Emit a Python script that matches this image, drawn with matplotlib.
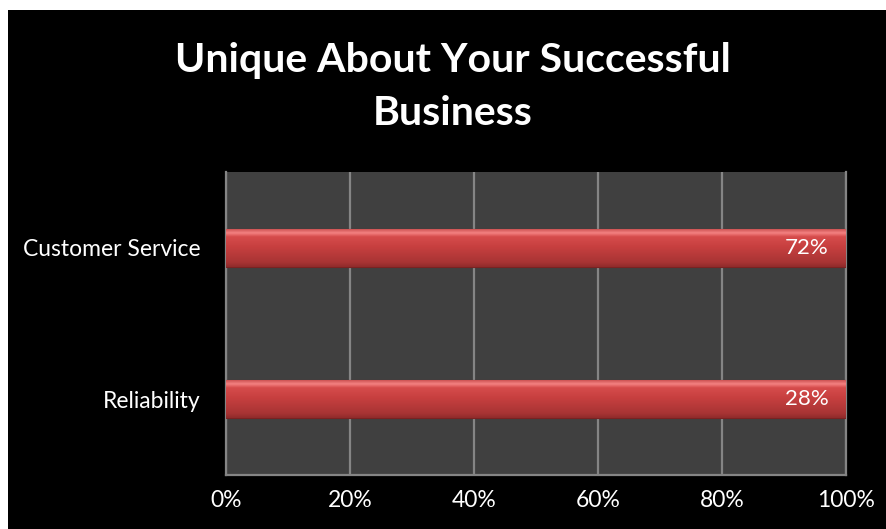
"""Horizontal 100% bar chart: what is unique about a successful business."""

import matplotlib
matplotlib.use('Agg')
import matplotlib.pyplot as plt
import numpy as np
from matplotlib.colors import LinearSegmentedColormap
from matplotlib.patches import Rectangle
from matplotlib.ticker import FuncFormatter

categories = ['Reliability', 'Customer Service']
responses = [28, 72]          # percent of respondents
# single series drawn as a 100% stacked bar, so each row's total is its own value
row_totals = [28, 72]
x_ticks = [0, 0.2, 0.4, 0.6, 0.8, 1.0]

BG = '#000000'
PLOT_BG = '#404040'
GRID = '#858585'
TEXT = '#FFFFFF'
FONT = 'Lato'

bar_cmap = LinearSegmentedColormap.from_list(
    'bar', [(0.0, '#8f2a2a'), (0.12, '#a83434'), (0.55, '#c84040'),
            (0.8, '#d64c4c'), (0.9, '#f48282'), (1.0, '#cc5252')])

fig = plt.figure(figsize=(8.86, 5.29), dpi=100)
fig.patch.set_facecolor('white')
fig.add_artist(Rectangle((8 / 886, 0), 1, 1 - 10 / 529, transform=fig.transFigure,
                         facecolor=BG, edgecolor='none', zorder=0))

ax = fig.add_axes([226 / 886, 54 / 529, 620 / 886, 303 / 529])
ax.set_facecolor(PLOT_BG)
ax.set_xlim(0, 1)
ax.set_ylim(-0.5, len(categories) - 0.5)

shares = [v / t for v, t in zip(responses, row_totals)]
y = np.arange(len(categories))
bar_h = 0.25
bars = ax.barh(y, shares, height=bar_h, color='#c84040', edgecolor='#7a2222',
               linewidth=0.8, zorder=3)

# gradient fill for the glossy look
grad = np.linspace(0, 1, 256).reshape(-1, 1)
for rect, val in zip(bars, responses):
    x0, y0 = rect.get_x(), rect.get_y()
    w, h = rect.get_width(), rect.get_height()
    im = ax.imshow(grad, cmap=bar_cmap, aspect='auto', origin='lower',
                   extent=(x0, x0 + w, y0, y0 + h), zorder=3.5,
                   interpolation='bilinear')
    im.set_clip_path(rect)
    ax.text(x0 + w - 0.028, y0 + h / 2, f'{val}%', color=TEXT,
            fontsize=16, family=FONT, ha='right', va='center', zorder=5)

ax.set_xticks(x_ticks)
ax.xaxis.set_major_formatter(FuncFormatter(lambda v, _: f'{v * 100:.0f}%'))
ax.set_yticks(y)
ax.set_yticklabels(categories)
ax.tick_params(axis='both', length=0, colors=TEXT, labelsize=16.5)
ax.tick_params(axis='x', pad=11)
ax.tick_params(axis='y', pad=18)
for lbl in ax.get_xticklabels() + ax.get_yticklabels():
    lbl.set_family(FONT)

ax.grid(axis='x', color=GRID, linewidth=1.6, zorder=1)
ax.set_axisbelow(True)
ax.spines['top'].set_visible(False)
for side in ['left', 'bottom', 'right']:
    ax.spines[side].set_color(GRID)
    ax.spines[side].set_linewidth(1.6)

fig.text(453 / 886, 1 - 87 / 529, 'Unique About Your Successful\nBusiness',
         color=TEXT, fontsize=29.5, fontweight='bold', family=FONT,
         ha='center', va='center', linespacing=1.55)

fig.savefig('out.png', dpi=100, facecolor='white')
plt.close(fig)
